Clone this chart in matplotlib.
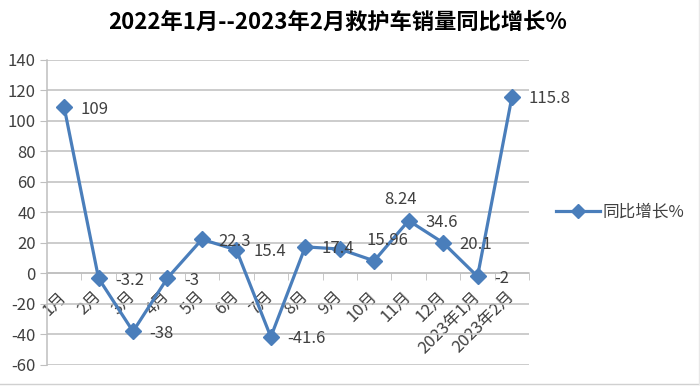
import matplotlib
matplotlib.use("Agg")
import matplotlib.pyplot as plt
from matplotlib.lines import Line2D
import numpy as np

plt.rcParams['font.family'] = ['Noto Sans CJK SC', 'DejaVu Sans']

title = "2022年1月--2023年2月救护车销量同比增长%"
categories = ["1月", "2月", "3月", "4月", "5月", "6月", "7月", "8月", "9月",
              "10月", "11月", "12月", "2023年1月", "2023年2月"]
values = [109, -3.2, -38, -3, 22.3, 15.4, -41.6, 17.4, 15.96, 8.24, 34.6, 20.1, -2, 115.8]
value_labels = ["109", "-3.2", "-38", "-3", "22.3", "15.4", "-41.6", "17.4", "15.96",
                "8.24", "34.6", "20.1", "-2", "115.8"]
series_name = "同比增长%"
yticks = [-60, -40, -20, 0, 20, 40, 60, 80, 100, 120, 140]

blue = "#4A7EBB"
grid_c = "#BFBFBF"
text_c = "#404040"

fig = plt.figure(figsize=(7.0, 3.89), dpi=100)
ax = fig.add_axes([0.067, 0.0617, 0.689, 0.7848])

x = np.arange(len(categories))
ax.plot(x, values, color=blue, lw=2.3, marker='D', markersize=8.5,
        markerfacecolor=blue, markeredgecolor=blue, zorder=3, clip_on=False)

# data labels
default_off = (12, -1.5)
special_off = {8: (19, 6.5), 9: (7, 44)}
for i, (v, lab) in enumerate(zip(values, value_labels)):
    off = special_off.get(i, default_off)
    ax.annotate(lab, (x[i], v), xytext=off, textcoords='offset points',
                ha='left', va='center', fontsize=12, color=text_c, zorder=4)

ax.set_xlim(-0.5, len(categories) - 0.5)
ax.set_ylim(-60, 140)
ax.set_yticks(yticks)
ax.set_yticklabels([str(t) for t in yticks])
ax.yaxis.grid(True, color=grid_c, lw=1.1)
ax.set_axisbelow(True)

for s in ['top', 'right']:
    ax.spines[s].set_visible(False)
ax.spines['left'].set_color(grid_c)
ax.spines['left'].set_linewidth(1.1)
ax.spines['bottom'].set_position(('data', 0))
ax.spines['bottom'].set_color(grid_c)
ax.spines['bottom'].set_linewidth(1.1)

ax.tick_params(axis='y', length=5, color=grid_c, labelsize=12, labelcolor=text_c, pad=3)
ax.set_xticks(x)
ax.set_xticklabels(categories, rotation=45, ha='right', va='center',
                   rotation_mode='anchor', fontsize=12, color=text_c)
ax.tick_params(axis='x', which='major', length=0, pad=15)
ax.set_xticks(np.arange(-0.5, len(categories), 1.0), minor=True)
ax.tick_params(axis='x', which='minor', length=5, color=grid_c, direction='out')

fig.text(0.483, 0.943, title, ha='center', va='center', fontsize=16,
         fontweight='bold', color='black')

handle = Line2D([0], [0], color=blue, lw=2.3, marker='D', markersize=7,
                markerfacecolor=blue, markeredgecolor=blue)
fig.legend([handle], [series_name], loc='center left', bbox_to_anchor=(0.785, 0.455),
           frameon=False, fontsize=12, labelcolor=text_c, handlelength=2.6,
           handletextpad=0.2, borderaxespad=0)

# outer frame lines (bottom and right)
fig.add_artist(Line2D([0, 0.999], [0.013, 0.013], transform=fig.transFigure, color="#D0D0D0", lw=1))
fig.add_artist(Line2D([0.999, 0.999], [0.013, 1.0], transform=fig.transFigure, color="#E8E8E8", lw=1))

fig.savefig("out.png", dpi=100)
